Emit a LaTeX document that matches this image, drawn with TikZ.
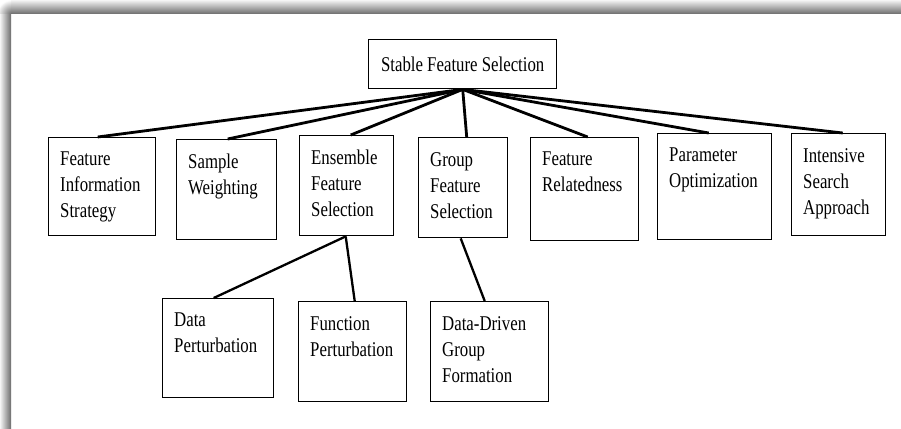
\documentclass[tikz,border=0pt]{standalone}
\usepackage{fontspec}
\setmainfont{Liberation Serif}[FakeStretch=0.8]
\begin{document}
\begin{tikzpicture}[x=1pt,y=-1pt,
  box/.style={draw=black, line width=1.4pt, anchor=north west, inner sep=0pt},
  lbl/.style={anchor=north west, align=left, inner sep=0pt,
    font=\fontsize{21}{26}\selectfont},
  trunk/.style={line width=2.8pt},
  twig/.style={line width=2.3pt}]
\useasboundingbox (0,0) rectangle (901,428);
% soft drop shadow along the top and left edges of the frame
\shade[top color=black!4, bottom color=black!58] (11,0) rectangle (901,14);
\shade[left color=black!4, right color=black!58] (0,14) rectangle (11,428);
\begin{scope}
  \clip (0,0) rectangle (11,14);
  \shade[inner color=black!58, outer color=white] (11,14) circle (14);
\end{scope}

% a box with its label set in the upper left corner
\newcommand\catbox[6]{%
  \node[box, minimum width=#4pt, minimum height=#5pt] (#1) at (#2,#3) {};
  \node[lbl] (#1-t) at ([xshift=12pt,yshift=-15pt]#1.north west) {#6};}

\node[box, minimum width=188pt, minimum height=49pt,
      font=\fontsize{21}{26}\selectfont] (root) at (368,39) {Stable Feature Selection};

\catbox{b1}{48}{137}{107}{98}{Feature\\Information\\Strategy}
\catbox{b2}{176}{139}{100}{100}{Sample\\Weighting}
\catbox{b3}{299}{135}{94}{100}{Ensemble\\Feature\\Selection}
\catbox{b4}{418}{137}{89}{100}{Group\\Feature\\Selection}
\catbox{b5}{530}{137}{108}{103}{Feature\\Relatedness}
\catbox{b6}{657}{133}{114}{106}{Parameter\\Optimization}
\catbox{b7}{791}{133}{94}{102}{Intensive\\Search\\Approach}

\catbox{d1}{162}{298}{111}{99}{Data\\Perturbation}
\catbox{d2}{298}{301}{108}{100}{Function\\Perturbation}
\catbox{d3}{430}{301}{118}{100}{Data-Driven\\Group\\Formation}

% connectors from the root
\draw[trunk] (root.south) -- ([xshift=-4.5pt]b1.north);
\draw[trunk] (root.south) -- ([xshift=1pt]b2.north);
\draw[trunk] (root.south) -- ([xshift=4pt]b3.north);
\draw[trunk] (root.south) -- ([xshift=3.5pt]b4.north);
\draw[trunk] (root.south) -- ([xshift=3pt]b5.north);
\draw[trunk] (root.south) -- ([xshift=-6pt]b6.north);
\draw[trunk] (root.south) -- ([xshift=4pt]b7.north);

% second level
\draw[twig] ([xshift=-1pt]b3.south) -- ([xshift=-4.5pt]d1.north);
\draw[twig] ([xshift=-1pt]b3.south) -- ([xshift=2pt]d2.north);
\draw[twig] ([xshift=-2.5pt]b4.south) -- ([xshift=-5pt]d3.north);
\end{tikzpicture}
\end{document}
